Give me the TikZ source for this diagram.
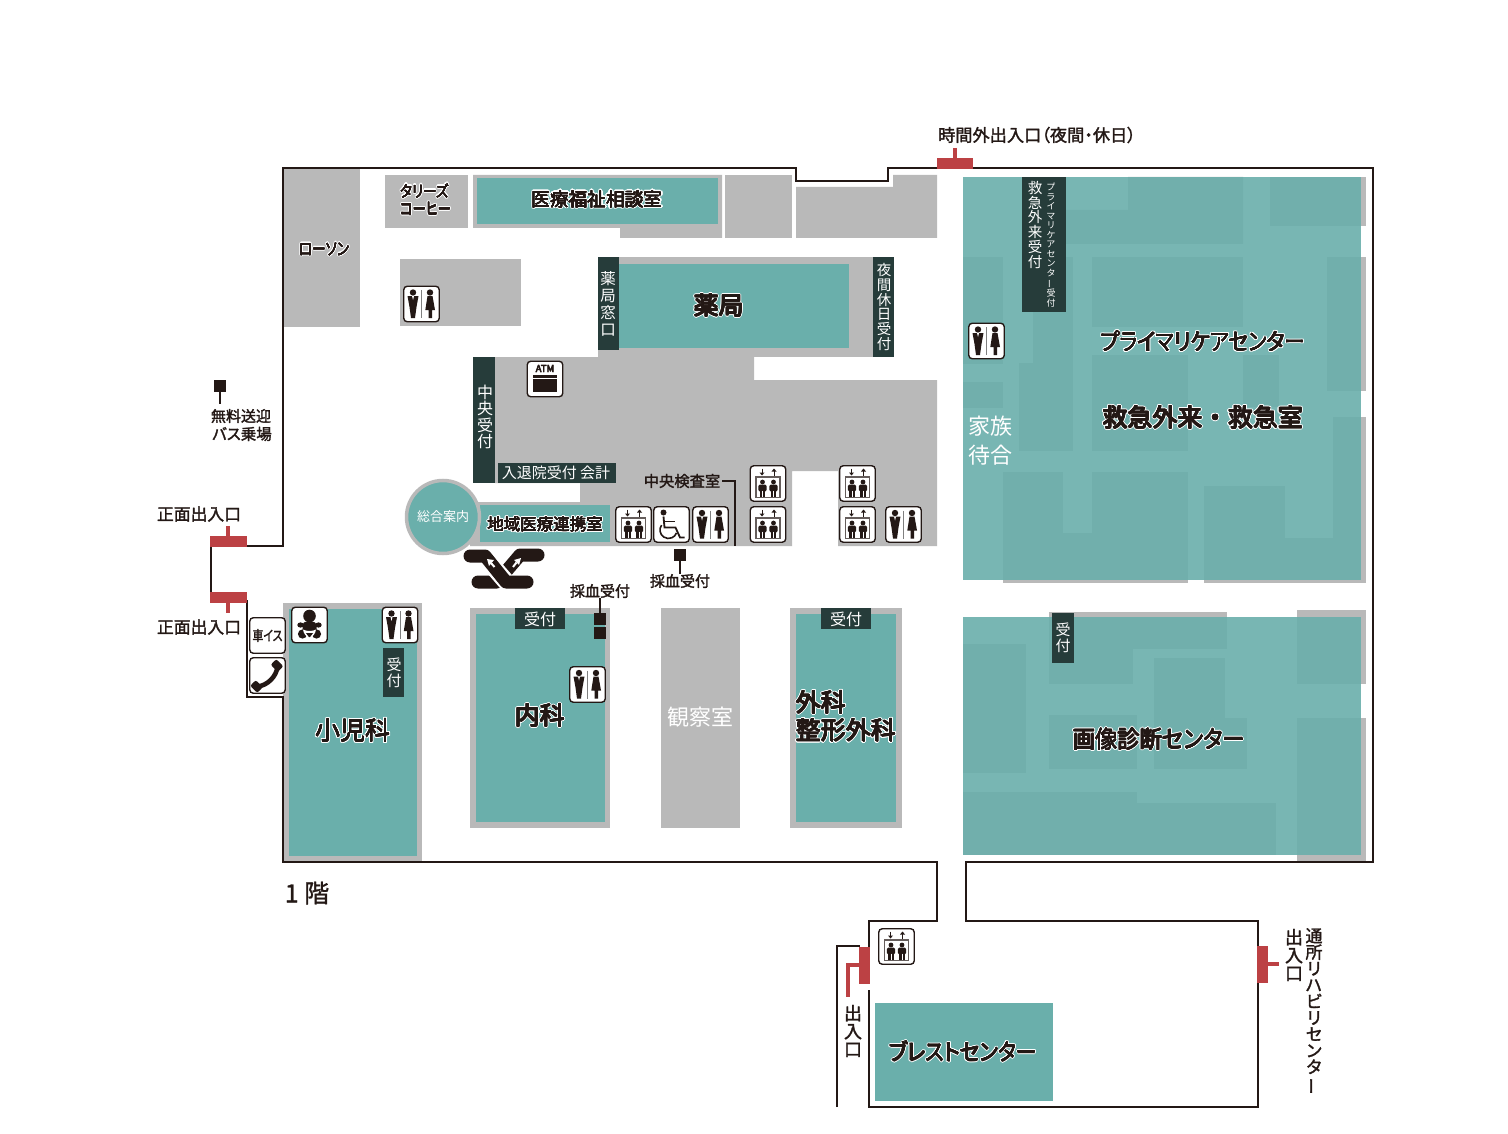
\documentclass[tikz,border=0pt]{standalone}
\usepackage{fontspec}
\usepackage{graphicx}
\usepackage[copies]{contour}
\usetikzlibrary{arrows.meta}
\setmainfont{Noto Sans CJK JP}
\newfontfamily\pj[RawFeature=+palt]{Noto Sans CJK JP}
\definecolor{teal}{HTML}{6AAFAB}
\definecolor{rgray}{HTML}{B9B9B9}
\definecolor{dk}{HTML}{263C3A}
\definecolor{rd}{HTML}{BC4144}
\definecolor{ink}{HTML}{231815}
\newcommand{\strokeon}[2]{\special{pdf:code 2 Tr #2 w 1 j 1 J #1}}
\newcommand{\strokeoff}{\special{pdf:code 0 Tr}}
\newcommand{\inkrg}{0.137 0.094 0.082 RG}
\newcommand{\hlw}{.2pt}
\newcommand{\hl}[1]{\makebox[0pt][l]{\contourlength{1.4pt}\contournumber{16}\contour{white}{#1}}{\contourlength{\hlw}\contournumber{8}\contour{ink}{#1}}}
\newcommand{\hlx}[2]{\scalebox{#1}[1]{\hl{#2}}}
\newcommand{\vbar}{\rotatebox[origin=c]{90}{ー}}
\tikzset{
 inked/.style={execute at begin node={\strokeon{\inkrg}{#1}},execute at end node={\strokeoff}},
 lbl/.style={inner sep=0pt,text=ink,font=\pj\fontsize{#1}{#1}\selectfont,inked=0.3},
 wlbl/.style={inner sep=0pt,text=white,font=\pj\fontsize{#1}{#1}\selectfont},
 hsm/.style={inner sep=0pt,text=ink,font=\pj\fontsize{#1}{#1}\selectfont,execute at begin node={\def\hlw{.2pt}}},
 hlb/.style={inner sep=0pt,text=ink,font=\pj\fontsize{#1}{#1}\selectfont,execute at begin node={\def\hlw{.35pt}}},
 vt/.style 2 args={inner sep=0pt,align=center,text=white,font=\pj\fontsize{#1}{#2}\selectfont},
 vk/.style 2 args={inner sep=0pt,align=center,text=ink,font=\pj\fontsize{#1}{#2}\selectfont,inked=0.3},
 wall/.style={draw=ink,line width=2pt,line join=miter},
 iconbox/.style={draw=ink,fill=white,line width=1.4pt,rounded corners=3.5pt,minimum width=35.5pt,minimum height=35.5pt,inner sep=0pt},
 sq/.style={fill=ink,minimum size=12pt,inner sep=0pt},
 stem/.style={draw=ink,line width=1.5pt},
 door/.style={fill=rd},
 dstem/.style={draw=rd,line width=4pt},
 pics/wc/.style={code={
   \fill[ink] (-8.5,-11.5) circle (3.2);
   \fill[ink] (-14,-8) -- (-3,-8) -- (-5,3) -- (-6.5,14) -- (-10.5,14) -- (-12,3) -- cycle;
   \fill[white] (-9.5,-8) -- (-7.5,-8) -- (-8.5,-4) -- cycle;
   \fill[ink] (8.5,-11.5) circle (3.2);
   \fill[ink] (6,-8) -- (11,-8) -- (13.5,6) -- (10.5,6) -- (10.5,14) -- (7,14) -- (7,6) -- (3.8,6) -- cycle;
   \draw[draw=gray,line width=1pt] (0,-14) -- (0,14);
 }},
 pics/ev/.style={code={
   \draw[ink,line width=1pt] (-6,-15) -- (-6,-10);
   \fill[ink] (-8.5,-11) -- (-3.5,-11) -- (-6,-8) -- cycle;
   \draw[ink,line width=1pt] (6,-13) -- (6,-8);
   \fill[ink] (3.5,-12) -- (8.5,-12) -- (6,-15) -- cycle;
   \draw[draw=ink!70,line width=1.2pt] (-12,-6.5) rectangle (12,14);
   \foreach \q in {-5.5,5.5}{
     \fill[ink] (\q,-1.5) circle (2.4);
     \fill[ink,rounded corners=1.5pt] (\q-4.2,1) rectangle (\q+4.2,8);
     \fill[ink] (\q-2.6,6) rectangle (\q+2.6,13);
   }
   \draw[draw=white,line width=.5pt] (-5.5,7) -- (-5.5,13);
   \draw[draw=white,line width=.5pt] (5.5,7) -- (5.5,13);
 }},
 pics/wheelc/.style={code={
   \fill[ink] (-8,-12) circle (3);
   \draw[ink,line width=1.8pt] (-8,-8) -- (-7,3) -- (4,3) -- (8.5,13) -- (13,13);
   \draw[ink,line width=1.8pt] (-7.5,-3) -- (3,-3);
   \draw[ink,line width=1.6pt] (-3,5.5) ++(215:8.5) arc (215:20:8.5);
 }},
 pics/baby/.style={code={
   \fill[ink] (0,-9) circle (6.3);
   \fill[ink,rounded corners=4pt] (-7,-3.5) rectangle (7,9);
   \fill[ink] (-9,0) ellipse (3.2 and 2.6);
   \fill[ink] (9,0) ellipse (3.2 and 2.6);
   \fill[ink] (-7,9) ellipse (4.6 and 4.6);
   \fill[ink] (7,9) ellipse (4.6 and 4.6);
   \fill[white] (-6.5,4.5) .. controls (-3,6.5) and (3,6.5) .. (6.5,4.5) .. controls (6,9) and (2.5,12) .. (1,13) -- (-1,13) .. controls (-2.5,12) and (-6,9) .. (-6.5,4.5) -- cycle;
   \fill[ink] (-3.6,8) -- (3.6,8) -- (0.6,12) -- (-0.6,12) -- cycle;
 }},
 pics/tel/.style={code={
   \draw[ink,line width=4.6pt] (10,-9) .. controls (9,1) and (0,10) .. (-10,11);
   \fill[ink,rounded corners=2pt,rotate around={-45:(9.5,-10)}] (4.5,-14) rectangle (14.5,-6);
   \fill[ink,rounded corners=2pt,rotate around={-45:(-11,11)}] (-16,7) rectangle (-6,15);
 }},
 pics/atm/.style={code={
   \node[lbl=9.5,inked=0.6] at (0,-10.5) {ATM};
   \fill[ink] (-12,-4.5) rectangle (12,12.5);
   \draw[white,line width=.8pt] (-12,-1) -- (12,-1);
 }},
}
\begin{document}
\begin{tikzpicture}[x=1pt,y=-1pt]
\useasboundingbox (0,0) rectangle (1508,1134);
\fill[white] (0,0) rectangle (1508,1134);

% --- grey rooms, upper wing
\fill[rgray] (283,168) rectangle (360,327);
\fill[rgray] (385,175) rectangle (468,228);
\fill[rgray] (473,175) -- (722,175) -- (722,238) -- (620,238) -- (620,228) -- (473,228) -- cycle;
\fill[rgray] (725,175) rectangle (792,238);
\fill[rgray] (796,187) -- (893,187) -- (893,175) -- (937,175) -- (937,238) -- (796,238) -- cycle;
\fill[rgray] (400,259) rectangle (521,326);
\fill[rgray] (598,257) rectangle (894,357);
\fill[rgray] (495,357) -- (754,357) -- (754,380) -- (937,380) -- (937,546) -- (838,546) -- (838,471) -- (792,471) -- (792,546) -- (470,546) -- (470,502) -- (580,502) -- (580,483) -- (495,483) -- cycle;
\fill[teal] (477,178) rectangle (718,224);
\fill[teal] (619,264) rectangle (849,348);
\fill[dk] (598,257) rectangle (619,350);
\fill[dk] (873,257) rectangle (894,357);
\fill[dk] (473,357) rectangle (495,483);
\fill[dk] (498,463) rectangle (616,483);
\fill[teal] (480,505) rectangle (610,542);
\filldraw[fill=teal,draw=rgray,line width=3.5pt] (443,517) circle (36.5);

% --- lower rooms
\fill[rgray] (283,603) rectangle (422,862);
\fill[teal] (289,609) rectangle (417,856);
\fill[dk] (383,648) rectangle (404,697);
\fill[rgray] (470,608) rectangle (610,828);
\fill[teal] (476,614) rectangle (605,822);
\fill[dk] (515,608) rectangle (565,629);
\fill[rgray] (661,608) rectangle (740,828);
\fill[rgray] (790,608) rectangle (902,828);
\fill[teal] (796,614) rectangle (896,822);
\fill[dk] (821,608) rectangle (871,629);
\fill[teal] (875,1003) rectangle (1053,1101);

% --- primary care block: grey rooms under a translucent teal sheet
\fill[rgray] (1065,210) -- (1128,210) -- (1128,177) -- (1243,177) -- (1243,244) -- (1065,244) -- cycle;
\fill[rgray] (1270,177) rectangle (1366,226);
\fill[rgray] (963,257) rectangle (1003,364);
\fill[rgray] (963,382) rectangle (1003,408);
\fill[rgray] (1033,257) rectangle (1073,363);
\fill[rgray] (1019,363) rectangle (1073,451);
\fill[rgray] (1092,257) rectangle (1243,327);
\fill[rgray] (1092,355) rectangle (1188,451);
\fill[rgray] (1243,355) rectangle (1279,407);
\fill[rgray] (1327,257) rectangle (1366,391);
\fill[rgray] (1333,417) rectangle (1366,583);
\fill[rgray] (1003,472) rectangle (1063,583);
\fill[rgray] (1063,533) rectangle (1092,583);
\fill[rgray] (1092,472) rectangle (1188,583);
\fill[rgray] (1204,486) rectangle (1285,583);
\fill[rgray] (1285,538) rectangle (1333,583);
\fill[teal,fill opacity=.9] (963,177) rectangle (1361,580);
\fill[dk] (1022,177) rectangle (1066,312);

% --- imaging block
\fill[rgray] (963,644) rectangle (1026,773);
\fill[rgray] (1049,612) rectangle (1227,649);
\fill[rgray] (1049,649) rectangle (1133,684);
\fill[rgray] (1154,658) rectangle (1225,718);
\fill[rgray] (1154,718) rectangle (1247,769);
\fill[rgray] (1049,715) rectangle (1137,769);
\fill[rgray] (963,792) rectangle (1137,855);
\fill[rgray] (1137,803) rectangle (1276,855);
\fill[rgray] (1297,610) rectangle (1366,684);
\fill[rgray] (1297,718) rectangle (1366,861);
\fill[teal,fill opacity=.9] (963,617) rectangle (1361,855);
\fill[dk] (1052,613) rectangle (1074,663);

% --- walls
\draw[wall] (211,546) -- (283,546) -- (283,168.5) -- (796,168.5) -- (796,181) -- (888,181) -- (888,168.5) -- (1373,168.5) -- (1373,862) -- (966,862) -- (966,921) -- (1258,921) -- (1258,1107) -- (869,1107) -- (869,921) -- (937,921) -- (937,862) -- (283,862) -- (283,697) -- (247,697) -- (247,600);
\draw[wall] (211,546) -- (211,600);
\draw[wall] (837,1107) -- (837,946) -- (860,946);
\fill[white] (866,984) rectangle (872,990);

% --- doors
\fill[door] (937,158) rectangle (973,169);
\draw[dstem] (955,148) -- (955,158);
\fill[door] (210,536) rectangle (247,547);
\draw[dstem] (228,526) -- (228,536);
\fill[door] (210,592) rectangle (247,603);
\draw[dstem] (228,603) -- (228,613);
\fill[door] (859,947) rectangle (870,984);
\draw[dstem,line join=miter] (859,965) -- (848,965) -- (848,997);
\fill[door] (1257,946) rectangle (1268,983);
\draw[dstem] (1268,964) -- (1279,964);

% --- escalators
\draw[ink,line width=13pt,line cap=round,line join=round] (538,555) -- (520,555) -- (497,582) -- (478,582);
\draw[white,line width=17.5pt] (484,556) -- (515,592);
\draw[ink,line width=13pt,line cap=round,line join=round] (470,556) -- (485,556) -- (506,582) -- (527,582);
\fill[white] (487,559) -- (494,560) -- (489,566) -- cycle;
\draw[white,line width=2pt] (491,563) -- (494.5,567);
\fill[white] (521,558) -- (514,560) -- (519,565) -- cycle;
\draw[white,line width=2pt] (516.5,562.5) -- (513,567);

% --- icons
\foreach \n/\x/\y/\p in {w1/421.5/304/wc,w2/400/625/wc,w3/587.5/684.5/wc,w4/710.5/524.5/wc,w5/903.5/524.5/wc,w6/986.5/341/wc,
   e1/633.5/524.5/ev,e2/768/483.5/ev,e3/768/524.5/ev,e4/857.5/483.5/ev,e5/857.5/524.5/ev,e6/896.5/946.5/ev,
   wch/671.5/524.5/wheelc,bb/309.5/625/baby,tl/267.5/675.5/tel,at/545/379/atm}{
  \node[iconbox] (\n) at (\x,\y) {};
  \edef\pictmp{\noexpand\pic at (\n) {\p};}
  \pictmp
}
\node[iconbox,font=\pj\fontsize{14}{14}\selectfont,text=ink,inked=0.3] (wheelchair) at (267.5,635.5) {\scalebox{.78}[1]{車イス}};

% --- markers
\node[sq] (busmark) at (220,386) {};
\node[lbl=15] (buslabel) at (241,416) {無料送迎};
\node[lbl=15.5] (buslabelb) at (242,434) {バス乗場};
\coordinate (bustip) at (220,404);
\draw[stem] (busmark) -- (bustip);
\node[sq] (bm1) at (600,619) {};
\node[sq] (bm2) at (600,633) {};
\node[lbl=15] (bt1) at (600,591) {採血受付};
\draw[stem] (bt1.south) -- (bm1.north);
\node[sq] (bm3) at (680,555) {};
\node[lbl=15] (bt2) at (680,581) {採血受付};
\draw[stem] (bm3.south) -- (bt2.north);
\node[lbl=15.3] (kensa) at (682,481) {中央検査室};
\coordinate (kensaend) at (735,546);
\draw[stem] (kensa.east) ++(2,0) -| (kensaend);

% --- labels, dark counters
\node[vt={15.5}{17}] (t1) at (608,304) {薬\\局\\窓\\口};
\node[vt={14.5}{14.8}] (t2) at (884,307) {夜\\間\\休\\日\\受\\付};
\node[vt={16}{16.5}] (t3) at (485,417) {中\\央\\受\\付};
\node[wlbl=15] (t4) at (556,473) {入退院受付 会計};
\node[vt={15}{16}] (t5) at (394,673) {受\\付};
\node[wlbl=16] (t6) at (540,619) {受付};
\node[wlbl=16] (t7) at (846,619) {受付};
\node[vt={15}{16}] (t8) at (1063,638) {受\\付};
\node[vt={14.5}{14.8},anchor=north] (t9) at (1035,181) {救\\急\\外\\来\\受\\付};
\node[vt={9}{9.5},anchor=north] (t10) at (1051,183) {プ\\ラ\\イ\\マ\\リ\\ケ\\ア\\セ\\ン\\タ\\\vbar\\受\\付};
\node[wlbl=13] (t11) at (443,517) {総合案内};

% --- labels, white
\node[wlbl=22] (t12) at (700,717) {観察室};
\node[vt={22}{29}] (t13) at (990,441) {家族\\待合};

% --- labels, outlined
\node[hsm=18.7] (h1) at (597,200) {\hl{医療福祉相談室}};
\node[hsm=16,anchor=west] (h2) at (400,191.5) {\hlx{.85}{タリーズ}};
\node[hsm=16,anchor=west] (h2b) at (400,209.5) {\hlx{.83}{コーヒー}};
\node[hsm=17] (h3) at (324,250) {\hlx{.8}{ローソン}};
\node[hlb=25] (h4) at (719,306) {\hl{薬局}};
\node[hlb=23.5] (h5) at (1203,342) {\hlx{.875}{プライマリケアセンター}};
\node[hlb=25] (h6) at (1203,418) {\hl{救急外来\hspace{6.5pt}・\hspace{6.5pt}救急室}};
\node[hlb=24] (h7) at (1159,740) {\hlx{.93}{画像診断センター}};
\node[hlb=23] (h8) at (963,1052) {\hlx{.9}{ブレストセンター}};
\node[hlb=25] (h9) at (353,731) {\hl{小児科}};
\node[hlb=25] (h10) at (540,716) {\hl{内科}};
\node[hlb=25,anchor=west] (h11) at (796,703) {\hl{外科}};
\node[hlb=25,anchor=west] (h12) at (796,731) {\hl{整形外科}};
\node[hsm=16.5] (h13) at (545,525) {\hl{地域医療連携室}};

% --- labels, plain
\node[lbl=17.2] (l1) at (1037,135) {時間外出入口（夜間・休日）};
\node[lbl=16.8] (l2) at (199,514) {正面出入口};
\node[lbl=16.8] (l3) at (199,627) {正面出入口};
\node[lbl=25] (l4) at (307,893) {1 階};
\node[vk={18}{18}] (l5) at (853,1031) {出\\入\\口};
\node[vk={18}{18}] (l6) at (1294,955) {出\\入\\口};
\node[vk={17}{16.4},anchor=north] (l7) at (1314,928) {通\\所\\リ\\ハ\\ビ\\リ\\セ\\ン\\タ\\\vbar};
\end{tikzpicture}
\end{document}
